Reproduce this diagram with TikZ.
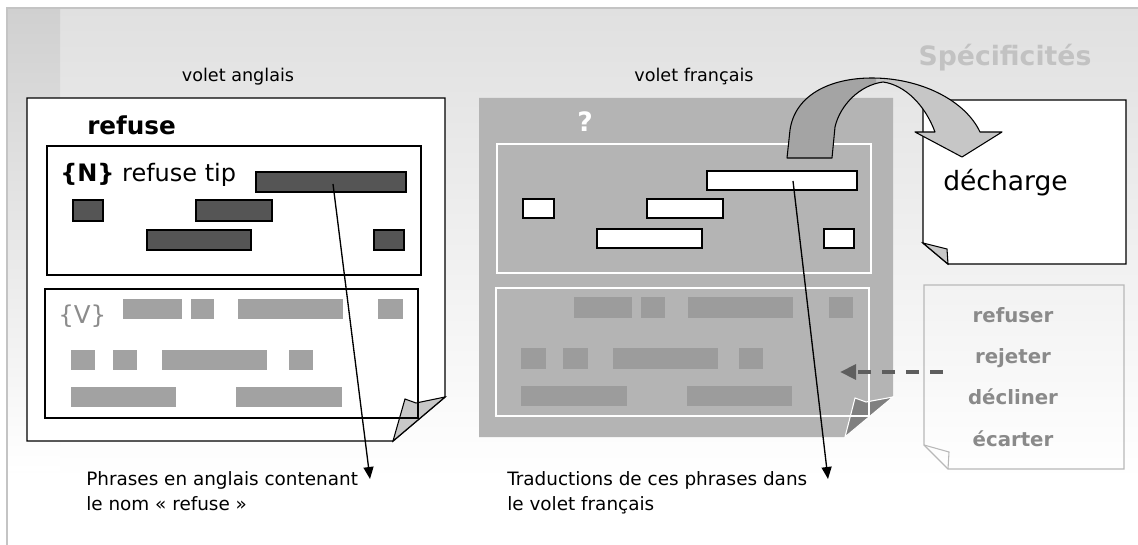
\documentclass[tikz,border=0pt]{standalone}
\usepackage{fontspec}
\setmainfont{DejaVu Sans}
\usetikzlibrary{fit,arrows.meta}
\definecolor{bgTop}{HTML}{E0E0E0}
\definecolor{stripTop}{HTML}{D0D0D0}
\definecolor{frameGrey}{HTML}{C4C4C4}
\definecolor{barDark}{HTML}{555555}
\definecolor{barGrey}{HTML}{A2A2A2}
\definecolor{frFill}{HTML}{B4B4B4}
\definecolor{frBar}{HTML}{9C9C9C}
\definecolor{frFlap}{HTML}{808080}
\definecolor{flapGrey}{HTML}{C8C8C8}
\definecolor{vGrey}{HTML}{8C8C8C}
\definecolor{titleGrey}{HTML}{C2C2C2}
\definecolor{synGrey}{HTML}{8A8A8A}
\definecolor{synLine}{HTML}{B8B8B8}
\definecolor{dashGrey}{HTML}{5E5E5E}
\definecolor{arrDark}{HTML}{A4A4A4}
\definecolor{arrLight}{HTML}{C6C6C6}
\newcommand\bx[6]{%
  \path (#3,#4) coordinate (#2-nw) (#5,#6) coordinate (#2-se);
  \node[#1, fit=(#2-nw)(#2-se)] (#2) {};}
\begin{document}
\begin{tikzpicture}[x=0.75pt,y=-0.75pt,
  docline/.style={draw=black, line width=1.1pt, line join=miter},
  darkbar/.style={draw=black, fill=barDark, line width=0.9pt, inner sep=0pt},
  greybar/.style={fill=barGrey, inner sep=0pt},
  whitebar/.style={draw=black, fill=white, line width=0.9pt, inner sep=0pt},
  frbar/.style={fill=frBar, inner sep=0pt},
  innerbox/.style={draw=black, line width=1.1pt, inner sep=0pt},
  innerwhite/.style={draw=white, line width=1pt, inner sep=0pt},
  conn/.style={draw=black, line width=1pt, -{Triangle[length=9pt,width=7.5pt]}},
  dasharrow/.style={draw=dashGrey, line width=3pt, dash pattern=on 9.5pt off 8.5pt,
     -{Triangle[length=12pt,width=11pt]}},
  lbl/.style={inner sep=0pt, font=\fontsize{13.2}{15}\selectfont},
  note/.style={inner sep=0pt, align=left, anchor=north west, font=\fontsize{13.8}{18.75}\selectfont},
  syn/.style={inner sep=0pt, anchor=base, text=synGrey, font=\fontsize{14.8}{16}\selectfont\bfseries}]
\useasboundingbox (0,0) rectangle (1138,545);
\fill[white] (0,0) rectangle (1138,545);
% background
\shade[top color=bgTop, bottom color=white] (7,8) rectangle (1138,480);
\shade[top color=stripTop, bottom color=white] (8,9) rectangle (60,470);
\draw[frameGrey, line width=1.2pt] (7,545) -- (7,8) -- (1138,8);

% ---------- English panel
\node[lbl] (ttlEn) at (238,77) {volet anglais};
\draw[docline, fill=white] (27,98) -- (445,98) -- (445,397) -- (393,441) -- (27,441) -- cycle;
\draw[black, line width=0.8pt, fill=flapGrey] (393,441) -- (405,399) -- (416,403) -- (445,397) -- cycle;
\node[anchor=base west, inner sep=0pt, font=\fontsize{18.5}{20}\selectfont\bfseries] (wref) at (87,135) {refuse};
\bx{innerbox}{nbox}{47}{146}{421}{275}
\node[anchor=base west, inner sep=0pt, font=\fontsize{18}{20}\selectfont] (ntxt) at (60,182) {\textbf{\{N\}} refuse tip};
\bx{darkbar}{b1}{256}{172}{406}{192}
\bx{darkbar}{b2}{73}{200}{103}{221}
\bx{darkbar}{b3}{196}{200}{272}{221}
\bx{darkbar}{b4}{147}{230}{251}{250}
\bx{darkbar}{b5}{374}{230}{404}{250}
\bx{innerbox}{vbox}{45}{289}{418}{418}
\node[anchor=base west, inner sep=0pt, text=vGrey, font=\fontsize{18.4}{20}\selectfont] (vtxt) at (58,323) {\{V\}};
\bx{greybar}{g1}{123}{299}{182}{319}
\bx{greybar}{g2}{191}{299}{214}{319}
\bx{greybar}{g3}{238}{299}{343}{319}
\bx{greybar}{g4}{378}{299}{403}{319}
\bx{greybar}{g5}{71}{350}{95}{370}
\bx{greybar}{g6}{113}{350}{137}{370}
\bx{greybar}{g7}{162}{350}{267}{370}
\bx{greybar}{g8}{289}{350}{313}{370}
\bx{greybar}{g9}{71}{387}{176}{407}
\bx{greybar}{g10}{236}{387}{342}{407}
\node[note] (noteEn) at (86,471) {Phrases en anglais contenant\\le nom « refuse »};
\coordinate (sEn) at (333,184);
\coordinate (eEn) at (370,479);
\draw[conn] (sEn) -- (eEn);

% ---------- French panel
\node[lbl] (ttlFr) at (694,77) {volet français};
\fill[frFill] (479,98) -- (893,98) -- (893,396) -- (845,437) -- (479,437) -- cycle;
\draw[white, line width=0.8pt, fill=frFlap] (845,437) -- (855,398) -- (866,402) -- (893,397) -- cycle;
\node[text=white, inner sep=0pt, font=\fontsize{20}{22}\selectfont\bfseries] (qm) at (585,122) {?};
\bx{innerwhite}{fbox1}{497}{144}{871}{273}
\bx{whitebar}{w1}{707}{171}{857}{190}
\bx{whitebar}{w2}{523}{199}{554}{218}
\bx{whitebar}{w3}{647}{199}{723}{218}
\bx{whitebar}{w4}{597}{229}{702}{248}
\bx{whitebar}{w5}{824}{229}{854}{248}
\bx{innerwhite}{fbox2}{496}{288}{869}{416}
\bx{frbar}{f1}{574}{297}{632}{318}
\bx{frbar}{f2}{641}{297}{665}{318}
\bx{frbar}{f3}{688}{297}{793}{318}
\bx{frbar}{f4}{829}{297}{853}{318}
\bx{frbar}{f5}{521}{348}{546}{369}
\bx{frbar}{f6}{563}{348}{588}{369}
\bx{frbar}{f7}{613}{348}{718}{369}
\bx{frbar}{f8}{739}{348}{763}{369}
\bx{frbar}{f9}{521}{386}{627}{406}
\bx{frbar}{f10}{687}{386}{792}{406}
\node[note] (noteFr) at (507,471) {Traductions de ces phrases dans\\le volet français};
\coordinate (sFr) at (793,181);
\coordinate (eFr) at (828,479);
\draw[conn] (sFr) -- (eFr);

% ---------- title
\node[inner sep=0pt, text=titleGrey, font=\fontsize{20}{22}\selectfont\bfseries] (title) at (1005,58) {Spécificités};

% ---------- decharge document
\draw[docline, fill=white] (923,100) -- (1126,100) -- (1126,264) -- (948,264) -- (923,243) -- cycle;
\draw[black, line width=0.8pt, fill=flapGrey] (923,243) -- (947,249) -- (948,264) -- cycle;
\node[anchor=base west, inner sep=0pt, font=\fontsize{19.9}{22}\selectfont] (dech) at (943,191) {décharge};

% ---------- curved arrow
\def\curvedarrow{(787,158) -- (790,130) .. controls (795,95) and (830,78) .. (872,78)
  .. controls (920,78) and (965,100) .. (980,132) -- (1002,132) -- (962,157) -- (915,132) -- (935,132)
  .. controls (925,105) and (905,85) .. (883,82) .. controls (860,85) and (840,105) .. (835,127)
  -- (832,158) -- cycle}
\fill[arrLight] \curvedarrow;
\begin{scope}
  \clip (700,60) rectangle (876,170);
  \fill[arrDark] \curvedarrow;
\end{scope}
\draw[black, line width=0.8pt, line join=round] \curvedarrow;

% ---------- synonyms document
\draw[synLine, line width=0.9pt] (924,285) -- (1124,285) -- (1124,469) -- (948,469) -- (924,445) -- cycle;
\draw[synLine, line width=0.8pt] (924,445) -- (949,452) -- (948,469);
\node[syn] (s1) at (1013,322) {refuser};
\node[syn] (s2) at (1013,363) {rejeter};
\node[syn] (s3) at (1013,404) {décliner};
\node[syn] (s4) at (1013,446) {écarter};
\coordinate (dStart) at (943,372);
\coordinate (dEnd) at (840,372);
\draw[dasharrow] (dStart) -- (dEnd);
\end{tikzpicture}
\end{document}
